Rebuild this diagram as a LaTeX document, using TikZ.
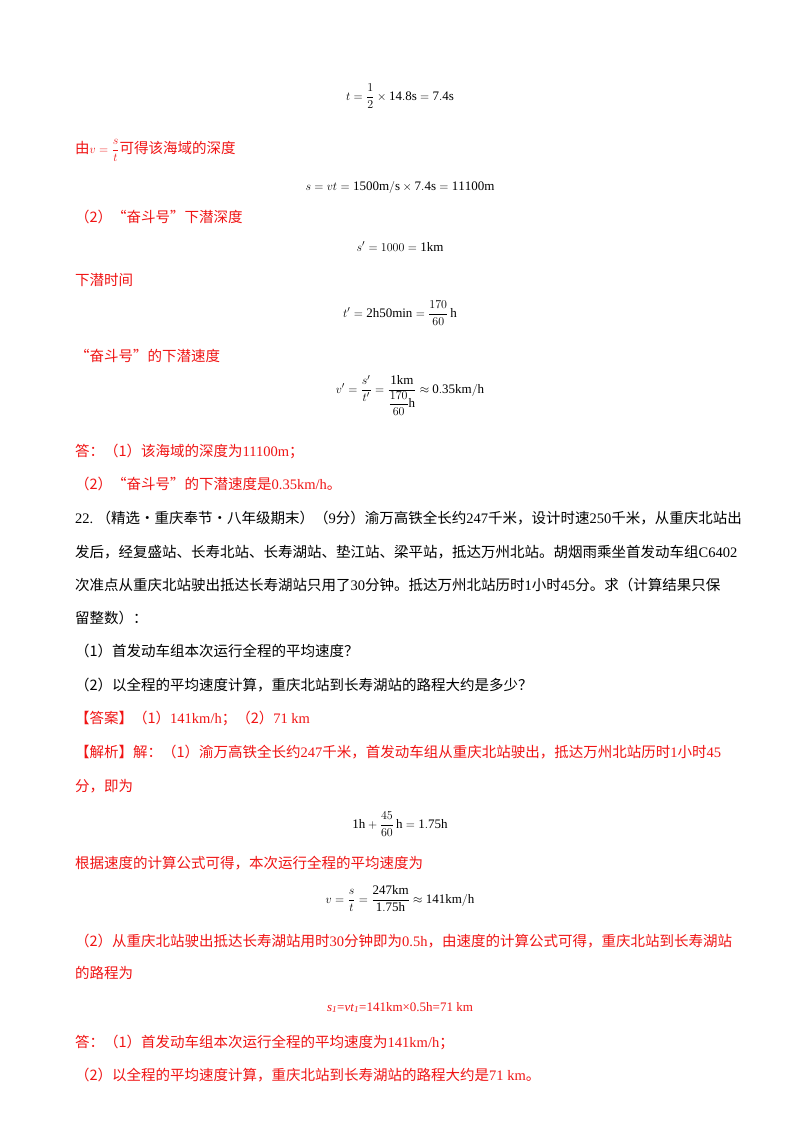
\documentclass[tikz,border=0pt]{standalone}
\usepackage{amsmath}
\usepackage{fontspec}
\setmainfont{Liberation Serif}
\newfontfamily\cjk{Noto Sans CJK SC}
\newcommand\en[1]{{\rmfamily #1}}
\definecolor{ans}{RGB}{240,20,20}
\begin{document}
\begin{tikzpicture}[x=1pt,y=-1pt,
  txt/.style={anchor=base west,inner sep=0pt,font=\fontsize{14.5}{16}\selectfont\cjk},
  red/.style={txt,text=ans},
  eq/.style={anchor=base,inner sep=0pt,font=\fontsize{13}{16}\selectfont}]
\useasboundingbox[fill=white] (0,0) rectangle (800,1132);
\node[eq] (e1) at (400,100) {$t=\dfrac{1}{2}\times\mathrm{14.8s}=\mathrm{7.4s}$};
\node[red] (l1) at (75,153) {由\en{\fontsize{13}{16}\selectfont$v=\dfrac{s}{t}$}可得该海域的深度};
\node[eq] (e2) at (400,190) {$s=vt=\mathrm{1500m/s}\times\mathrm{7.4s}=\mathrm{11100m}$};
\node[red] (l2) at (75,222) {（2）“奋斗号”下潜深度};
\node[eq] (e3) at (400,251) {$s'=1000=\mathrm{1km}$};
\node[red] (l3) at (75,285) {下潜时间};
\node[eq] (e4) at (400,317) {$t'=\mathrm{2h50min}=\dfrac{170}{60}\,\mathrm{h}$};
\node[red] (l4) at (75,361) {“奋斗号”的下潜速度};
\node[eq] (e5) at (410,393) {$v'=\dfrac{s'}{t'}=\dfrac{\mathrm{1km}}{\dfrac{170}{60}\mathrm{h}}\approx\mathrm{0.35km/h}$};
\node[red] (l5) at (75,456) {答：（1）该海域的深度为\en{11100m}；};
\node[red] (l6) at (75,489) {（2）“奋斗号”的下潜速度是\en{0.35km/h}。};
\node[txt] (p1) at (75,523) {\en{22.}\ （精选·重庆奉节·八年级期末）（\en{9}分）渝万高铁全长约\en{247}千米，设计时速\en{250}千米，从重庆北站出};
\node[txt] (p2) at (75,557) {发后，经复盛站、长寿北站、长寿湖站、垫江站、梁平站，抵达万州北站。胡烟雨乘坐首发动车组\en{C6402}};
\node[txt] (p3) at (75,590) {次准点从重庆北站驶出抵达长寿湖站只用了\en{30}分钟。抵达万州北站历时\en{1}小时\en{45}分。求（计算结果只保};
\node[txt] (p4) at (75,623) {留整数）：};
\node[txt] (q1) at (75,656) {（1）首发动车组本次运行全程的平均速度？};
\node[txt] (q2) at (75,690) {（2）以全程的平均速度计算，重庆北站到长寿湖站的路程大约是多少？};
\node[red] (a1) at (75,723) {【答案】（1）\en{141km/h}；（2）\en{71 km}};
\node[red] (a2) at (75,757) {【解析】解：（1）渝万高铁全长约\en{247}千米，首发动车组从重庆北站驶出，抵达万州北站历时\en{1}小时\en{45}};
\node[red] (a3) at (75,791) {分，即为};
\node[eq] (e6) at (400,828) {$\mathrm{1h}+\dfrac{45}{60}\,\mathrm{h}=\mathrm{1.75h}$};
\node[red] (a4) at (75,868) {根据速度的计算公式可得，本次运行全程的平均速度为};
\node[eq] (e7) at (400,903) {$v=\dfrac{s}{t}=\dfrac{\mathrm{247km}}{\mathrm{1.75h}}\approx\mathrm{141km/h}$};
\node[red] (a5) at (75,946) {（2）从重庆北站驶出抵达长寿湖站用时\en{30}分钟即为\en{0.5h}，由速度的计算公式可得，重庆北站到长寿湖站};
\node[red] (a6) at (75,978) {的路程为};
\node[eq,text=ans] (e8) at (400,1011) {\textit{s}\textsubscript{\textit{1}}=\textit{vt}\textsubscript{\textit{1}}=141km×0.5h=71 km};
\node[red] (a7) at (75,1047) {答：（1）首发动车组本次运行全程的平均速度为\en{141km/h}；};
\node[red] (a8) at (75,1080) {（2）以全程的平均速度计算，重庆北站到长寿湖站的路程大约是\en{71 km}。};
\end{tikzpicture}
\end{document}
